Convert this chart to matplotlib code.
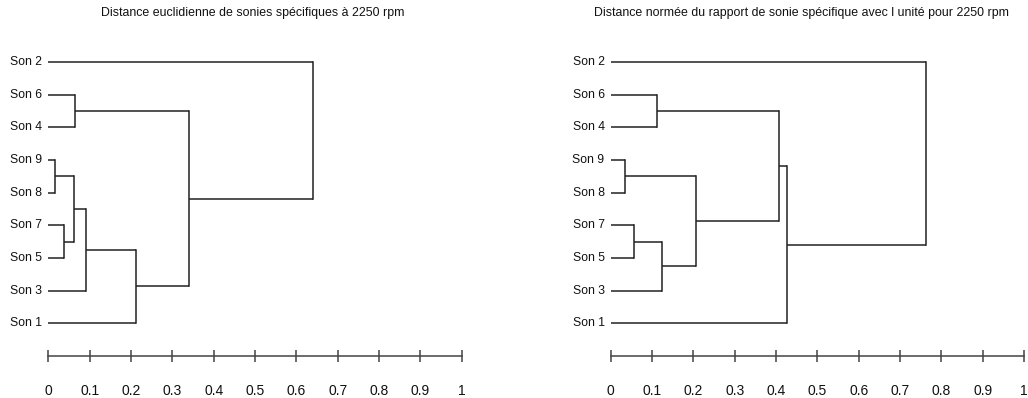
import matplotlib
matplotlib.use("Agg")
import matplotlib.pyplot as plt

plt.rcParams['font.family'] = ['Liberation Sans', 'DejaVu Sans']

labels = ["Son 1", "Son 2", "Son 3", "Son 4", "Son 5", "Son 6", "Son 7", "Son 8", "Son 9"]

# merges: (first child, second child, height); ids 0-8 are leaves, 9+ are clusters
merges_left = [
    (8, 7, 0.017),
    (6, 4, 0.037),
    (9, 10, 0.062),
    (5, 3, 0.064),
    (11, 2, 0.092),
    (13, 0, 0.212),
    (12, 14, 0.341),
    (1, 15, 0.641),
]
merges_right = [
    (8, 7, 0.035),
    (6, 4, 0.056),
    (5, 3, 0.112),
    (10, 2, 0.123),
    (9, 12, 0.206),
    (11, 13, 0.407),
    (14, 0, 0.426),
    (1, 15, 0.763),
]
title_left = "Distance euclidienne de sonies spécifiques à 2250 rpm"
title_right = "Distance normée du rapport de sonie spécifique avec l unité pour 2250 rpm"
ticks = [0, 0.1, 0.2, 0.3, 0.4, 0.5, 0.6, 0.7, 0.8, 0.9, 1]
tick_labels = ["0", "0.1", "0.2", "0.3", "0.4", "0.5", "0.6", "0.7", "0.8", "0.9", "1"]

W, H = 1028, 398
fig = plt.figure(figsize=(W / 100, H / 100), dpi=100)
LC = "#222222"


def draw(ax, merges):
    n = len(labels)
    nodes = {}
    for k, (a, b, h) in enumerate(merges):
        nodes[n + k] = (a, b, h)
    root = n + len(merges) - 1

    order = []

    def traverse(c):
        if c < n:
            order.append(c)
        else:
            a, b, _ = nodes[c]
            traverse(a)
            traverse(b)
    traverse(root)
    ypos = {leaf: n - i for i, leaf in enumerate(order)}

    def coord(c):
        if c < n:
            return 0.0, ypos[c]
        a, b, h = nodes[c]
        xa, ya = coord(a)
        xb, yb = coord(b)
        ax.plot([xa, h], [ya, ya], color=LC, lw=1.1, solid_capstyle='butt')
        ax.plot([xb, h], [yb, yb], color=LC, lw=1.1, solid_capstyle='butt')
        ax.plot([h, h], [ya, yb], color=LC, lw=1.1, solid_capstyle='projecting')
        return h, (ya + yb) / 2
    coord(root)

    for leaf in order:
        ax.text(-0.015, ypos[leaf], labels[leaf], ha='right', va='center',
                fontsize=8.8, color='#111111', clip_on=False)

    ax.set_xlim(0, 1)
    ax.set_ylim(0, n + 1)
    for s in ['top', 'right', 'left']:
        ax.spines[s].set_visible(False)
    ax.spines['bottom'].set_color('#444444')
    ax.spines['bottom'].set_linewidth(1.1)
    ax.set_yticks([])
    ax.set_xticks(ticks)
    ax.set_xticklabels(tick_labels)
    ax.tick_params(axis='x', direction='inout', length=9, width=1.1,
                   color='#444444', pad=16, labelsize=10, labelcolor='#111111')


bottom = (H - 355.7) / H
height = 326 / H
ax1 = fig.add_axes([48.3 / W, bottom, 413.4 / W, height])
ax2 = fig.add_axes([610.7 / W, bottom, 413.3 / W, height])
draw(ax1, merges_left)
draw(ax2, merges_right)

fig.text(253 / W, 1 - 13 / H, title_left, ha='center', va='center', fontsize=8.9, color='#111111')
fig.text(802 / W, 1 - 13 / H, title_right, ha='center', va='center', fontsize=8.9, color='#111111')

fig.savefig("out.png", dpi=100)
